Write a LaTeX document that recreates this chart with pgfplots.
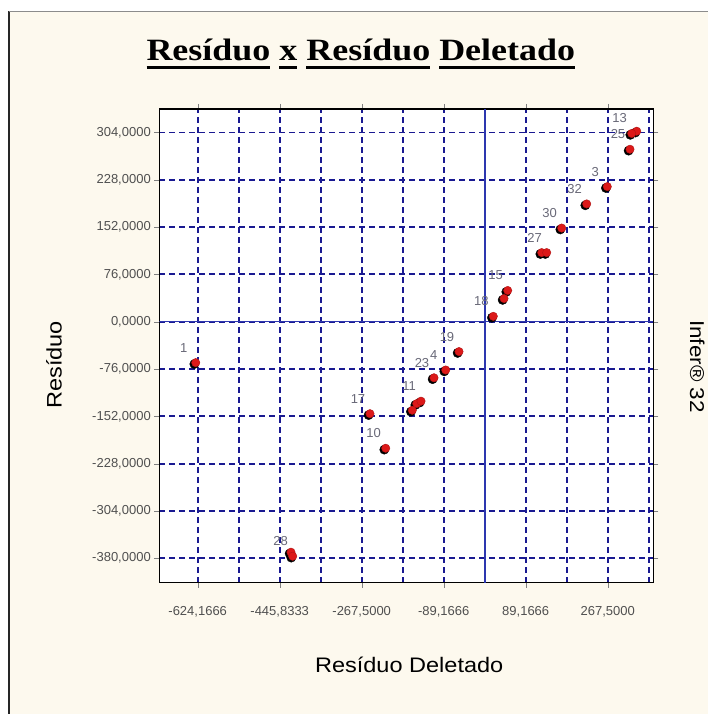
\documentclass[border=0pt]{standalone}
\usepackage{fontspec}
\setmainfont{Liberation Sans}
\newfontfamily\titlefont{Liberation Serif}
\usepackage{graphicx}
\usepackage{pgfplots}
\usepackage{pgfplotstable}
\pgfplotsset{compat=1.18}

\definecolor{bgcream}{RGB}{253,249,238}
\definecolor{gridnavy}{RGB}{25,25,145}
\definecolor{zeroblue}{RGB}{45,55,175}
\definecolor{ticklab}{RGB}{80,80,80}
\definecolor{ptlab}{RGB}{105,105,120}
\definecolor{ptred}{RGB}{220,25,25}

% underline one word with a thick rule
\newlength\uwidth
\newcommand\uword[1]{\settowidth\uwidth{#1}\rlap{\rule[-8.3pt]{\uwidth}{2.6pt}}#1}

% points whose labels are hidden
\pgfplotstableread{
x y
-157.5 -142.3
-147.9 -131.6
-421.3 -370.3
42.0 37.2
124.0 111.0
330.6 306.0
}\hiddenpts

% labelled points
\pgfplotstableread{
x y lab
-628.5 -65.8 1
-249.5 -147.8 17
-215.3 -203.3 10
-138.5 -127.7 11
-110.3 -90.1 23
-84.8 -77.6 4
-55.9 -48.0 19
-417.6 -376.8 28
18.7 8.6 18
50.0 50.1 15
134.8 111.0 27
167.5 150.4 30
221.8 189.2 32
266.6 217.0 3
316.0 277.0 25
319.7 302.4 13
}\labpts

\begin{document}
\begin{tikzpicture}[x=1pt,y=1pt]
\useasboundingbox (0,0) rectangle (708,714);
\fill[white] (0,0) rectangle (708,714);
\fill[bgcream] (9.5,0) rectangle (708,702.5);
\draw[black!85, line width=1.6pt] (9,0) -- (9,703);
\draw[black!45, line width=1pt] (9,702.7) -- (708,702.7);

\begin{axis}[
  at={(159.3pt,131.3pt)}, anchor=south west,
  scale only axis, width=494pt, height=473.7pt,
  xmin=-707.7, xmax=366.7, ymin=-419.3, ymax=341.7,
  axis background/.style={fill=white},
  axis line style={black, line width=1.6pt},
  xtick={-624.1666,-445.8333,-267.5,-89.1666,89.1666,267.5},
  xticklabels={{-624,1666},{-445,8333},{-267,5000},{-89,1666},{89,1666},{267,5000}},
  minor xtick={-535,-356.6666,-178.3333,0,178.3333,356.6666},
  ytick={-380,-304,-228,-152,-76,0,76,152,228,304},
  yticklabels={{-380,0000},{-304,0000},{-228,0000},{-152,0000},{-76,0000},{0,0000},{76,0000},{152,0000},{228,0000},{304,0000}},
  xmajorgrids, ymajorgrids, xminorgrids,
  grid style={draw=gridnavy, line width=1.8pt, dash pattern=on 6pt off 4pt},
  major grid style={draw=gridnavy, line width=1.8pt, dash pattern=on 6pt off 4pt},
  minor grid style={draw=gridnavy, line width=1.8pt, dash pattern=on 6pt off 4pt},
  tick align=outside, major tick length=5pt, minor tick length=0pt,
  ticklabel style={font=\fontsize{13}{15}\selectfont, text=ticklab},
  xticklabel style={yshift=-15pt},
]
\draw[zeroblue, line width=1.6pt] (axis cs:0,-419.3) -- (axis cs:0,341.7);
\draw[zeroblue, line width=1.6pt] (axis cs:-707.7,0) -- (axis cs:366.7,0);

% dark shadow under each marker
\addplot[only marks, mark=*, mark size=4.6pt,
  mark options={fill=black, draw=black, xshift=-1.4pt, yshift=-1.4pt}]
  table {\hiddenpts};
\addplot[only marks, mark=*, mark size=4.6pt,
  mark options={fill=black, draw=black, xshift=-1.4pt, yshift=-1.4pt}]
  table {\labpts};

% red markers
\addplot[only marks, mark=*, mark size=4.2pt,
  mark options={fill=ptred, draw=ptred!80!black, line width=0.4pt}]
  table {\hiddenpts};
\addplot[only marks, mark=*, mark size=4.2pt,
  mark options={fill=ptred, draw=ptred!80!black, line width=0.4pt},
  point meta=explicit symbolic, nodes near coords,
  every node near coord/.append style={anchor=center, xshift=-12pt, yshift=15pt,
    font=\fontsize{13}{15}\selectfont, text=ptlab}]
  table[meta=lab] {\labpts};
\end{axis}

\node[anchor=base] at (360.8,653.3) {\scalebox{1.16}[1]{\titlefont\bfseries\fontsize{31}{34}\selectfont
  \uword{Resíduo} \uword{x} \uword{Resíduo} \uword{Deletado}}};
\node[rotate=90, anchor=base] at (61.7,349) {\scalebox{1.12}[1]{\fontsize{21}{24}\selectfont Resíduo}};
\node[anchor=base] at (409.2,41) {\scalebox{1.12}[1]{\fontsize{21}{24}\selectfont Resíduo Deletado}};
\node[rotate=-90, anchor=base west] at (690,397.3) {\scalebox{1.12}[1]{\fontsize{20}{24}\selectfont Infer® 32}};
\end{tikzpicture}
\end{document}
